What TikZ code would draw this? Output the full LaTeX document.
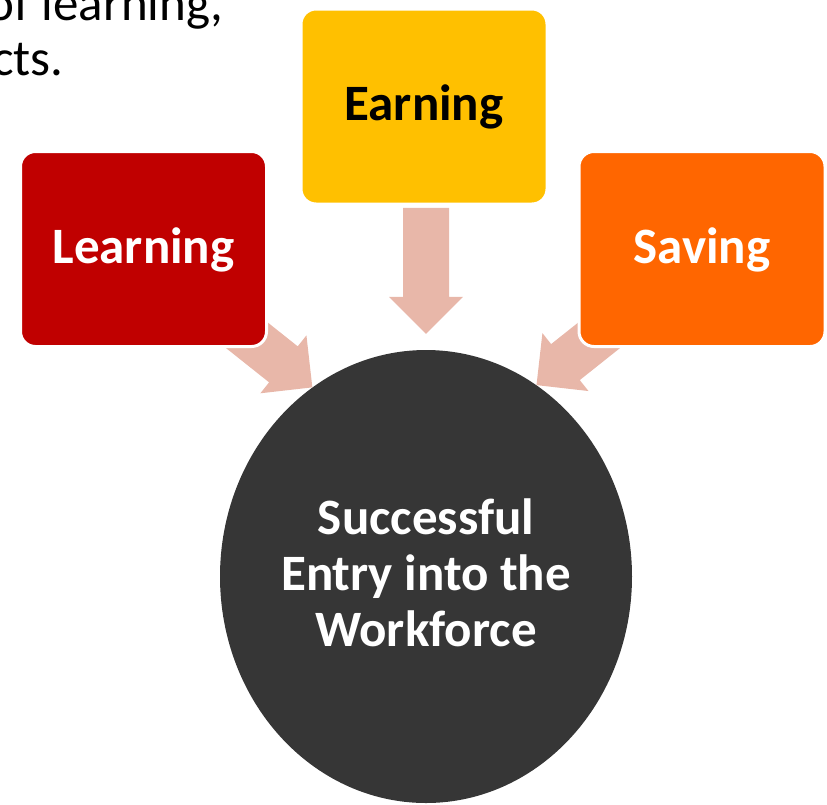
\documentclass[tikz,border=0pt]{standalone}
\usepackage{fontspec}
\setmainfont{Carlito}
\usetikzlibrary{shapes.geometric}

\definecolor{learnred}{HTML}{C00000}
\definecolor{earnyellow}{HTML}{FFC000}
\definecolor{saveorange}{HTML}{FF6600}
\definecolor{goalgray}{HTML}{363636}
\definecolor{arrowpink}{HTML}{E8B7A9}

\tikzset{
    pillar/.style={rectangle, rounded corners=15pt, draw=white, line width=3pt,
        minimum width=246pt, minimum height=195pt, inner sep=0pt, text=white,
        font=\bfseries\fontsize{51}{56}\selectfont, text height=41pt, text depth=13pt},
    goal/.style={ellipse, fill=goalgray, minimum width=412pt, minimum height=453pt, inner sep=0pt},
    goallabel/.style={align=center, inner sep=0pt, text=white,
        font=\bfseries\fontsize{51}{56}\selectfont},
    intro/.style={anchor=base east, inner sep=0pt, font=\fontsize{51}{56}\selectfont},
    % fat arrow, tip at the origin, pointing along +x
    blockarrow/.pic={
        \fill[arrowpink] (-126,-23) -- (-37,-23) -- (-37,-37) -- (0,0)
            -- (-37,37) -- (-37,23) -- (-126,23) -- cycle;
    }
}

\begin{document}
\begin{tikzpicture}[x=1pt, y=-1pt]
    \useasboundingbox (0,0) rectangle (827,804);
    \clip (0,0) rectangle (827,804);

    % Leftover lines of the slide text
    \node[intro] (introtop) at (224,20) {of learning,};
    \node[intro] (introbottom) at (64,75) {cts.};

    % Goal
    \node[goal] (goal) at (426,576.5) {};

    % Arrows into the goal
    \pic[rotate=-90] at ([yshift=16pt]goal.north) {blockarrow};
    \pic[rotate=-38.5] at (goal.121) {blockarrow};
    \pic[rotate=-141.5] at (goal.60) {blockarrow};

    % The three pillars
    \node[pillar, fill=learnred] (learning) at (143.5,249) {Learning};
    \node[pillar, fill=earnyellow, text=black] (earning) at (424,106.5) {Earning};
    \node[pillar, fill=saveorange] (saving) at (702,249) {Saving};

    \node[goallabel] (goaltext) at ([yshift=3.5pt]goal.center) {Successful\\Entry into the\\Workforce};
\end{tikzpicture}
\end{document}
